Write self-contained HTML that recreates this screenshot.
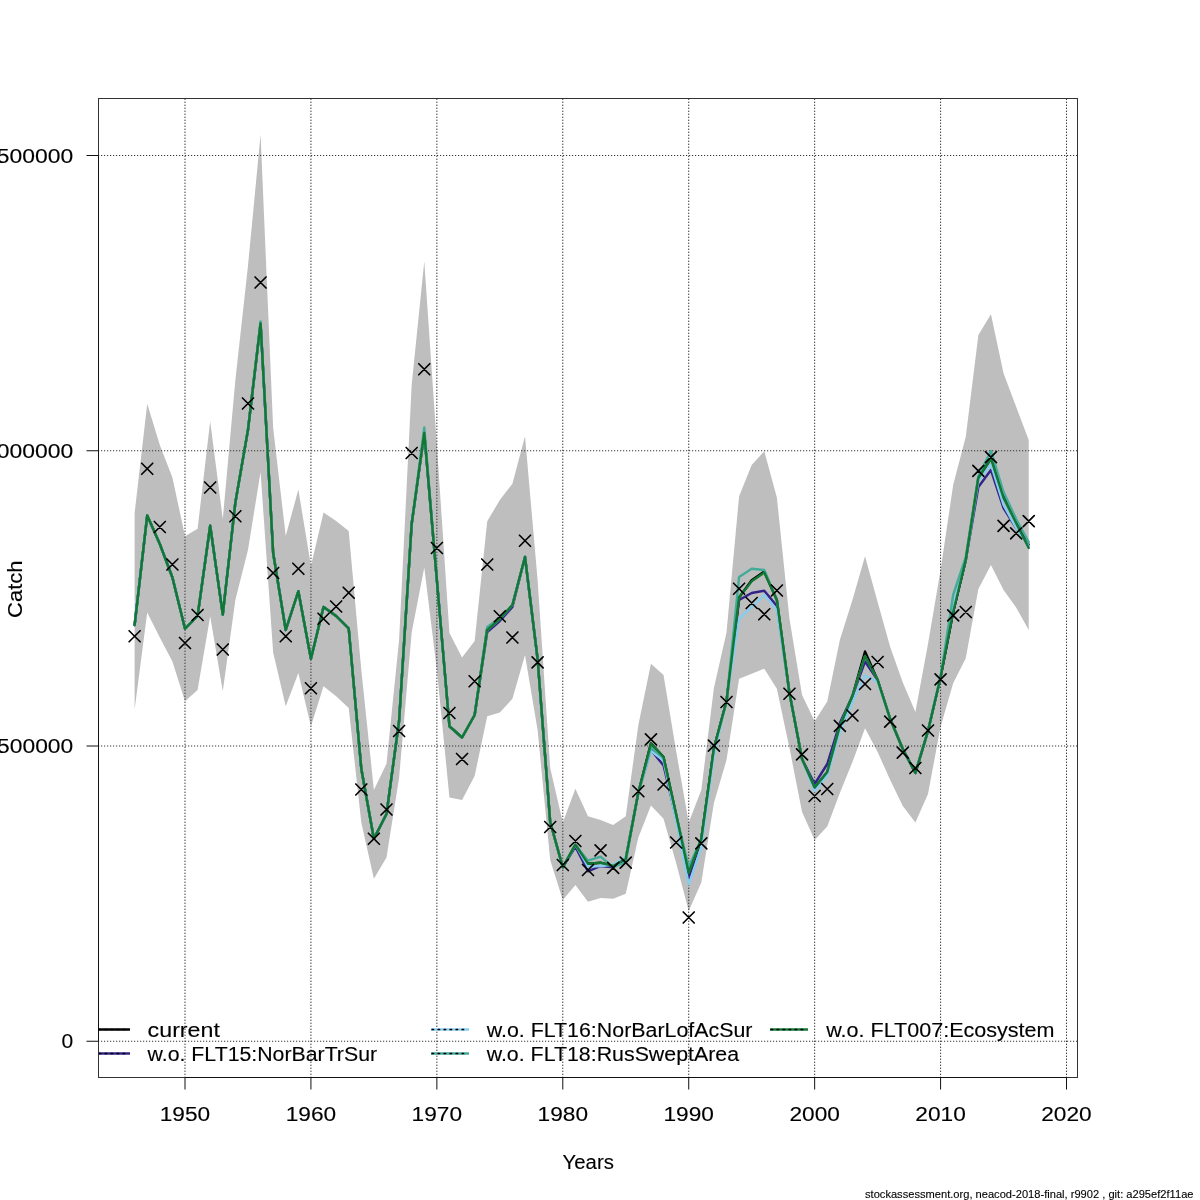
<!DOCTYPE html><html><head><meta charset="utf-8"><style>html,body{margin:0;padding:0;background:#fff;width:1200px;height:1200px;overflow:hidden}svg{display:block;will-change:transform}text{font-family:'Liberation Sans',sans-serif;stroke:#000;stroke-width:0.12px}</style></head><body>
<svg width="1200" height="1200" viewBox="0 0 1200 1200">
<rect width="1200" height="1200" fill="#fff"/>
<defs><clipPath id="pc"><rect x="98.5" y="98.5" width="979" height="979"/></clipPath></defs>
<path d="M134.63,513 L147.22,403.75 L159.81,445 L172.41,477.5 L185,536.25 L197.59,528.75 L210.19,421.25 L222.78,519 L235.37,380 L247.97,266 L260.56,134.5 L273.15,428 L285.74,536 L298.34,489.5 L310.93,566 L323.52,512.5 L336.12,521 L348.71,531 L361.3,670 L373.89,790 L386.49,763.75 L399.08,640 L411.67,385 L424.27,261.25 L436.86,445 L449.45,633 L462.05,657.5 L474.64,641 L487.23,521.25 L499.82,500 L512.42,483.75 L525.01,436.25 L537.6,580 L550.2,768 L562.79,822.5 L575.38,788.75 L587.98,816.25 L600.57,820 L613.16,825 L625.75,816.25 L638.35,725 L650.94,663.75 L663.53,675 L676.13,751 L688.72,822.5 L701.31,790 L713.91,688 L726.5,632.5 L739.09,496.25 L751.68,465 L764.28,451.25 L776.87,497.5 L789.46,618.75 L802.06,695 L814.65,721.25 L827.24,701.5 L839.84,640 L852.43,600 L865.02,556.25 L877.62,602 L890.21,647 L902.8,682.5 L915.39,712 L927.99,644 L940.58,570 L953.17,485 L965.77,436.7 L978.36,335 L990.95,314.2 L1003.54,373.3 L1016.14,406.7 L1028.73,440 L1028.73,630 L1016.14,607.5 L1003.54,590 L990.95,565 L978.36,589 L965.77,658.3 L953.17,683.3 L940.58,726.7 L927.99,794 L915.39,822.5 L902.8,806 L890.21,780 L877.62,752 L865.02,728.3 L852.43,762 L839.84,793 L827.24,826.5 L814.65,840 L802.06,812 L789.46,748 L776.87,688.75 L764.28,668.75 L751.68,673.75 L739.09,678.75 L726.5,760 L713.91,803 L701.31,882.5 L688.72,911 L676.13,863 L663.53,818.75 L650.94,805.5 L638.35,837.5 L625.75,893.75 L613.16,898.75 L600.57,898 L587.98,901.75 L575.38,885 L562.79,900 L550.2,860 L537.6,730 L525.01,655 L512.42,698.75 L499.82,712.5 L487.23,716.25 L474.64,776 L462.05,800 L449.45,797.5 L436.86,670 L424.27,567.5 L411.67,632.5 L399.08,778 L386.49,857.5 L373.89,878.75 L361.3,822.5 L348.71,708 L336.12,696.25 L323.52,686.25 L310.93,726.25 L298.34,673 L285.74,706.25 L273.15,652.5 L260.56,472 L247.97,550 L235.37,600 L222.78,691.25 L210.19,616.25 L197.59,690 L185,701.25 L172.41,661.5 L159.81,637.5 L147.22,612.5 L134.63,709.5 Z" fill="#bebebe" stroke="none" clip-path="url(#pc)"/>
<path d="M185,1078 V98 M310.93,1078 V98 M436.86,1078 V98 M562.79,1078 V98 M688.72,1078 V98 M814.65,1078 V98 M940.58,1078 V98 M1066.51,1078 V98" stroke="#3a3a3a" stroke-width="1" stroke-dasharray="1.4 1.6" fill="none"/>
<path d="M98,155.5 H1078 M98,450.75 H1078 M98,746 H1078 M98,1041.25 H1078" stroke="#333" stroke-width="1" stroke-dasharray="1.2 1.8" fill="none"/>
<g fill="none" stroke-width="2.4" stroke-linejoin="round" stroke-linecap="round" clip-path="url(#pc)">
<path d="M134.63,625 L147.22,515.5 L159.81,544 L172.41,577.5 L185,628.75 L197.59,616 L210.19,525.75 L222.78,614.5 L235.37,502.5 L247.97,430 L260.56,323.5 L273.15,553 L285.74,630 L298.34,591.25 L310.93,658.75 L323.52,607 L336.12,616 L348.71,628.5 L361.3,768.75 L373.89,838.75 L386.49,814 L399.08,721 L411.67,524 L424.27,433 L436.86,580 L449.45,726.25 L462.05,737.5 L474.64,715 L487.23,628.5 L499.82,619 L512.42,605 L525.01,557 L537.6,659 L550.2,822 L562.79,867.3 L575.38,844.7 L587.98,863.7 L600.57,862.7 L613.16,866 L625.75,858.7 L638.35,792.5 L650.94,743.4 L663.53,757 L676.13,814.6 L688.72,873 L701.31,839 L713.91,748.4 L726.5,701.25 L739.09,597.5 L751.68,580.3 L764.28,571.6 L776.87,600 L789.46,693 L802.06,759 L814.65,787.5 L827.24,772 L839.84,726 L852.43,696 L865.02,651.5 L877.62,680 L890.21,719 L902.8,749 L915.39,773 L927.99,731 L940.58,677 L953.17,612 L965.77,560 L978.36,478 L990.95,458.5 L1003.54,495 L1016.14,521 L1028.73,545" stroke="#000"/>
<path d="M134.63,625 L147.22,515.5 L159.81,544 L172.41,577.5 L185,628.75 L197.59,616 L210.19,525.75 L222.78,614.5 L235.37,502.5 L247.97,430 L260.56,323.5 L273.15,553 L285.74,630 L298.34,591.25 L310.93,658.75 L323.52,607 L336.12,616 L348.71,628.5 L361.3,768.75 L373.89,838.75 L386.49,814 L399.08,721 L411.67,524 L424.27,433 L436.86,580 L449.45,726.25 L462.05,737.5 L474.64,715 L487.23,632 L499.82,621 L512.42,607 L525.01,557 L537.6,659 L550.2,822 L562.79,867.3 L575.38,846.7 L587.98,871.3 L600.57,866 L613.16,867.3 L625.75,858.7 L638.35,792.5 L650.94,750 L663.53,765.4 L676.13,818 L688.72,878.7 L701.31,839 L713.91,748.4 L726.5,701.25 L739.09,600 L751.68,593 L764.28,590.75 L776.87,606 L789.46,693 L802.06,759 L814.65,784 L827.24,764 L839.84,723 L852.43,696 L865.02,661.5 L877.62,680 L890.21,719 L902.8,749 L915.39,773 L927.99,731 L940.58,677 L953.17,612 L965.77,560 L978.36,487 L990.95,470 L1003.54,508 L1016.14,528 L1028.73,545" stroke="#332288"/>
<path d="M134.63,625 L147.22,515.5 L159.81,544 L172.41,577.5 L185,628.75 L197.59,616 L210.19,525.75 L222.78,614.5 L235.37,502.5 L247.97,430 L260.56,323.5 L273.15,553 L285.74,630 L298.34,591.25 L310.93,658.75 L323.52,607 L336.12,616 L348.71,628.5 L361.3,768.75 L373.89,838.75 L386.49,814 L399.08,721 L411.67,524 L424.27,433 L436.86,580 L449.45,726.25 L462.05,737.5 L474.64,715 L487.23,630 L499.82,619 L512.42,605 L525.01,557 L537.6,659 L550.2,822 L562.79,867.3 L575.38,844.7 L587.98,866.7 L600.57,866 L613.16,864.7 L625.75,857.3 L638.35,792.5 L650.94,751 L663.53,760.5 L676.13,820.6 L688.72,884.4 L701.31,847.6 L713.91,755.5 L726.5,701.25 L739.09,618.75 L751.68,607 L764.28,595 L776.87,610 L789.46,693 L802.06,759 L814.65,791 L827.24,776 L839.84,732 L852.43,702 L865.02,675.5 L877.62,682 L890.21,719 L902.8,749 L915.39,773 L927.99,731 L940.58,675 L953.17,606 L965.77,560 L978.36,481 L990.95,464.5 L1003.54,505 L1016.14,528 L1028.73,546" stroke="#88CCEE"/>
<path d="M134.63,625 L147.22,515.5 L159.81,544 L172.41,577.5 L185,628.75 L197.59,616 L210.19,525.75 L222.78,614.5 L235.37,502.5 L247.97,430 L260.56,321.5 L273.15,553 L285.74,630 L298.34,591.25 L310.93,658.75 L323.52,607 L336.12,616 L348.71,628.5 L361.3,768.75 L373.89,838.75 L386.49,814 L399.08,721 L411.67,524 L424.27,427.5 L436.86,580 L449.45,726.25 L462.05,737.5 L474.64,715 L487.23,627 L499.82,618.3 L512.42,605 L525.01,557 L537.6,659 L550.2,822 L562.79,867.3 L575.38,844.7 L587.98,860.7 L600.57,856.7 L613.16,867.3 L625.75,862 L638.35,792.5 L650.94,747.5 L663.53,758 L676.13,814.6 L688.72,867 L701.31,839 L713.91,748.4 L726.5,701.25 L739.09,577 L751.68,568.75 L764.28,570 L776.87,600 L789.46,693 L802.06,759 L814.65,787.5 L827.24,772 L839.84,726 L852.43,696 L865.02,656 L877.62,680 L890.21,719 L902.8,749 L915.39,773 L927.99,731 L940.58,677 L953.17,595 L965.77,557 L978.36,476 L990.95,451 L1003.54,492 L1016.14,519 L1028.73,542" stroke="#44AA99"/>
<path d="M134.63,625 L147.22,515.5 L159.81,544 L172.41,577.5 L185,628.75 L197.59,616 L210.19,525.75 L222.78,614.5 L235.37,502.5 L247.97,430 L260.56,323.5 L273.15,553 L285.74,630 L298.34,591.25 L310.93,658.75 L323.52,607 L336.12,616 L348.71,628.5 L361.3,768.75 L373.89,838.75 L386.49,814 L399.08,721 L411.67,524 L424.27,433 L436.86,580 L449.45,726.25 L462.05,737.5 L474.64,715 L487.23,630 L499.82,619 L512.42,605 L525.01,557 L537.6,659 L550.2,822 L562.79,867.3 L575.38,844.7 L587.98,863.7 L600.57,862.7 L613.16,866 L625.75,858.7 L638.35,792.5 L650.94,743.4 L663.53,757 L676.13,814.6 L688.72,873 L701.31,839 L713.91,748.4 L726.5,701.25 L739.09,597.5 L751.68,581.25 L764.28,572.5 L776.87,600 L789.46,693 L802.06,759 L814.65,787.5 L827.24,772 L839.84,726 L852.43,696 L865.02,656 L877.62,680 L890.21,719 L902.8,749 L915.39,773 L927.99,731 L940.58,677 L953.17,612 L965.77,560 L978.36,478 L990.95,458.5 L1003.54,498 L1016.14,523 L1028.73,548" stroke="#117733"/>
</g>
<path d="M129.13,630.75 L140.13,641.75 M129.13,641.75 L140.13,630.75 M141.72,463.25 L152.72,474.25 M141.72,474.25 L152.72,463.25 M154.31,521.5 L165.31,532.5 M154.31,532.5 L165.31,521.5 M166.91,559 L177.91,570 M166.91,570 L177.91,559 M179.5,637.5 L190.5,648.5 M179.5,648.5 L190.5,637.5 M192.09,609.5 L203.09,620.5 M192.09,620.5 L203.09,609.5 M204.69,482 L215.69,493 M204.69,493 L215.69,482 M217.28,644 L228.28,655 M217.28,655 L228.28,644 M229.87,510.75 L240.87,521.75 M229.87,521.75 L240.87,510.75 M242.47,398 L253.47,409 M242.47,409 L253.47,398 M255.06,277 L266.06,288 M255.06,288 L266.06,277 M267.65,567.5 L278.65,578.5 M267.65,578.5 L278.65,567.5 M280.24,630.75 L291.24,641.75 M280.24,641.75 L291.24,630.75 M292.84,563.25 L303.84,574.25 M292.84,574.25 L303.84,563.25 M305.43,682.75 L316.43,693.75 M305.43,693.75 L316.43,682.75 M318.02,613.25 L329.02,624.25 M318.02,624.25 L329.02,613.25 M330.62,601 L341.62,612 M330.62,612 L341.62,601 M343.21,587.25 L354.21,598.25 M343.21,598.25 L354.21,587.25 M355.8,784 L366.8,795 M355.8,795 L366.8,784 M368.39,833.25 L379.39,844.25 M368.39,844.25 L379.39,833.25 M380.99,804 L391.99,815 M380.99,815 L391.99,804 M393.58,725.5 L404.58,736.5 M393.58,736.5 L404.58,725.5 M406.17,447.5 L417.17,458.5 M406.17,458.5 L417.17,447.5 M418.77,363.75 L429.77,374.75 M418.77,374.75 L429.77,363.75 M431.36,542.5 L442.36,553.5 M431.36,553.5 L442.36,542.5 M443.95,707.5 L454.95,718.5 M443.95,718.5 L454.95,707.5 M456.55,753.5 L467.55,764.5 M456.55,764.5 L467.55,753.5 M469.14,675.75 L480.14,686.75 M469.14,686.75 L480.14,675.75 M481.73,559 L492.73,570 M481.73,570 L492.73,559 M494.32,610.75 L505.32,621.75 M494.32,621.75 L505.32,610.75 M506.92,632 L517.92,643 M506.92,643 L517.92,632 M519.51,535.25 L530.51,546.25 M519.51,546.25 L530.51,535.25 M532.1,656.8 L543.1,667.8 M532.1,667.8 L543.1,656.8 M544.7,821.5 L555.7,832.5 M544.7,832.5 L555.7,821.5 M557.29,859.5 L568.29,870.5 M557.29,870.5 L568.29,859.5 M569.88,835.5 L580.88,846.5 M569.88,846.5 L580.88,835.5 M582.48,864.5 L593.48,875.5 M582.48,875.5 L593.48,864.5 M595.07,844.8 L606.07,855.8 M595.07,855.8 L606.07,844.8 M607.66,862.4 L618.66,873.4 M607.66,873.4 L618.66,862.4 M620.25,857.2 L631.25,868.2 M620.25,868.2 L631.25,857.2 M632.85,785.75 L643.85,796.75 M632.85,796.75 L643.85,785.75 M645.44,733.9 L656.44,744.9 M645.44,744.9 L656.44,733.9 M658.03,779 L669.03,790 M658.03,790 L669.03,779 M670.63,837 L681.63,848 M670.63,848 L681.63,837 M683.22,912 L694.22,923 M683.22,923 L694.22,912 M695.81,837.8 L706.81,848.8 M695.81,848.8 L706.81,837.8 M708.41,740.1 L719.41,751.1 M708.41,751.1 L719.41,740.1 M721,696.5 L732,707.5 M721,707.5 L732,696.5 M733.59,583.25 L744.59,594.25 M733.59,594.25 L744.59,583.25 M746.18,597.5 L757.18,608.5 M746.18,608.5 L757.18,597.5 M758.78,608.75 L769.78,619.75 M758.78,619.75 L769.78,608.75 M771.37,585 L782.37,596 M771.37,596 L782.37,585 M783.96,688.25 L794.96,699.25 M783.96,699.25 L794.96,688.25 M796.56,748.8 L807.56,759.8 M796.56,759.8 L807.56,748.8 M809.15,790.5 L820.15,801.5 M809.15,801.5 L820.15,790.5 M821.74,783.5 L832.74,794.5 M821.74,794.5 L832.74,783.5 M834.34,720.3 L845.34,731.3 M834.34,731.3 L845.34,720.3 M846.93,710 L857.93,721 M846.93,721 L857.93,710 M859.52,678.5 L870.52,689.5 M859.52,689.5 L870.52,678.5 M872.12,656.5 L883.12,667.5 M872.12,667.5 L883.12,656.5 M884.71,716.2 L895.71,727.2 M884.71,727.2 L895.71,716.2 M897.3,747.2 L908.3,758.2 M897.3,758.2 L908.3,747.2 M909.89,762.5 L920.89,773.5 M909.89,773.5 L920.89,762.5 M922.49,725 L933.49,736 M922.49,736 L933.49,725 M935.08,673.8 L946.08,684.8 M935.08,684.8 L946.08,673.8 M947.67,609.8 L958.67,620.8 M947.67,620.8 L958.67,609.8 M960.27,606.5 L971.27,617.5 M960.27,617.5 L971.27,606.5 M972.86,465.3 L983.86,476.3 M972.86,476.3 L983.86,465.3 M985.45,451.6 L996.45,462.6 M985.45,462.6 L996.45,451.6 M998.04,520.3 L1009.04,531.3 M998.04,531.3 L1009.04,520.3 M1010.64,527.8 L1021.64,538.8 M1010.64,538.8 L1021.64,527.8 M1023.23,515.7 L1034.23,526.7 M1023.23,526.7 L1034.23,515.7" stroke="#000" stroke-width="1.65" stroke-linecap="round" fill="none"/>
<rect x="98.5" y="98.5" width="979" height="979" fill="none" stroke="#333" stroke-width="1"/>
<path d="M185,1077.5 H1066.51 M185,1077.5 V1089.5 M310.93,1077.5 V1089.5 M436.86,1077.5 V1089.5 M562.79,1077.5 V1089.5 M688.72,1077.5 V1089.5 M814.65,1077.5 V1089.5 M940.58,1077.5 V1089.5 M1066.51,1077.5 V1089.5 M98.5,155.5 V1041.25 M86.5,155.5 H98.5 M86.5,450.75 H98.5 M86.5,746 H98.5 M86.5,1041.25 H98.5" stroke="#111" stroke-width="1" fill="none"/>
<text x="185" y="1121" font-size="19.6" text-anchor="middle" textLength="50.5" lengthAdjust="spacingAndGlyphs">1950</text>
<text x="310.93" y="1121" font-size="19.6" text-anchor="middle" textLength="50.5" lengthAdjust="spacingAndGlyphs">1960</text>
<text x="436.86" y="1121" font-size="19.6" text-anchor="middle" textLength="50.5" lengthAdjust="spacingAndGlyphs">1970</text>
<text x="562.79" y="1121" font-size="19.6" text-anchor="middle" textLength="50.5" lengthAdjust="spacingAndGlyphs">1980</text>
<text x="688.72" y="1121" font-size="19.6" text-anchor="middle" textLength="50.5" lengthAdjust="spacingAndGlyphs">1990</text>
<text x="814.65" y="1121" font-size="19.6" text-anchor="middle" textLength="50.5" lengthAdjust="spacingAndGlyphs">2000</text>
<text x="940.58" y="1121" font-size="19.6" text-anchor="middle" textLength="50.5" lengthAdjust="spacingAndGlyphs">2010</text>
<text x="1066.51" y="1121" font-size="19.6" text-anchor="middle" textLength="50.5" lengthAdjust="spacingAndGlyphs">2020</text>
<text x="73.3" y="162.5" font-size="19.6" text-anchor="end" textLength="89.24" lengthAdjust="spacingAndGlyphs">1500000</text>
<text x="73.3" y="457.75" font-size="19.6" text-anchor="end" textLength="89.24" lengthAdjust="spacingAndGlyphs">1000000</text>
<text x="73.3" y="753" font-size="19.6" text-anchor="end" textLength="76.32" lengthAdjust="spacingAndGlyphs">500000</text>
<text x="73.3" y="1048.25" font-size="19.6" text-anchor="end" textLength="11.72" lengthAdjust="spacingAndGlyphs">0</text>
<text x="588.2" y="1168.8" font-size="19.6" text-anchor="middle" textLength="51.3" lengthAdjust="spacingAndGlyphs">Years</text>
<text transform="translate(21.9,589.2) rotate(-90)" x="0" y="0" font-size="19.6" text-anchor="middle" textLength="57.5" lengthAdjust="spacingAndGlyphs">Catch</text>
<g clip-path="url(#pc)">
<path d="M92,1029.5 H130" stroke="#000" stroke-width="2.7" fill="none"/>
<path d="M93.2,1029.5 H129" stroke="#000" stroke-width="1.7" stroke-linecap="round" stroke-dasharray="1.3 4.7" fill="none"/>
<path d="M92,1053.5 H130" stroke="#332288" stroke-width="2.7" fill="none"/>
<path d="M93.2,1053.5 H129" stroke="#000" stroke-width="1.7" stroke-linecap="round" stroke-dasharray="1.3 4.7" fill="none"/>
<path d="M431,1029.5 H469" stroke="#88CCEE" stroke-width="2.7" fill="none"/>
<path d="M432.2,1029.5 H468" stroke="#000" stroke-width="1.7" stroke-linecap="round" stroke-dasharray="1.3 4.7" fill="none"/>
<path d="M431,1053.5 H469" stroke="#44AA99" stroke-width="2.7" fill="none"/>
<path d="M432.2,1053.5 H468" stroke="#000" stroke-width="1.7" stroke-linecap="round" stroke-dasharray="1.3 4.7" fill="none"/>
<path d="M770,1029.5 H808" stroke="#117733" stroke-width="2.7" fill="none"/>
<path d="M771.2,1029.5 H807" stroke="#000" stroke-width="1.7" stroke-linecap="round" stroke-dasharray="1.3 4.7" fill="none"/>
</g>
<text x="147.6" y="1037" font-size="19.6" textLength="72.3" lengthAdjust="spacingAndGlyphs">current</text>
<text x="147.6" y="1061" font-size="19.6" textLength="229.5" lengthAdjust="spacingAndGlyphs">w.o. FLT15:NorBarTrSur</text>
<text x="486.7" y="1037" font-size="19.6" textLength="265.8" lengthAdjust="spacingAndGlyphs">w.o. FLT16:NorBarLofAcSur</text>
<text x="486.7" y="1061" font-size="19.6" textLength="252.4" lengthAdjust="spacingAndGlyphs">w.o. FLT18:RusSweptArea</text>
<text x="826.25" y="1037" font-size="19.6" textLength="228.3" lengthAdjust="spacingAndGlyphs">w.o. FLT007:Ecosystem</text>
<text x="865" y="1197.9" font-size="10.4" style="stroke-width:0.1px" textLength="328.5" lengthAdjust="spacingAndGlyphs">stockassessment.org, neacod-2018-final, r9902 , git: a295ef2f11ae</text>
</svg></body></html>
